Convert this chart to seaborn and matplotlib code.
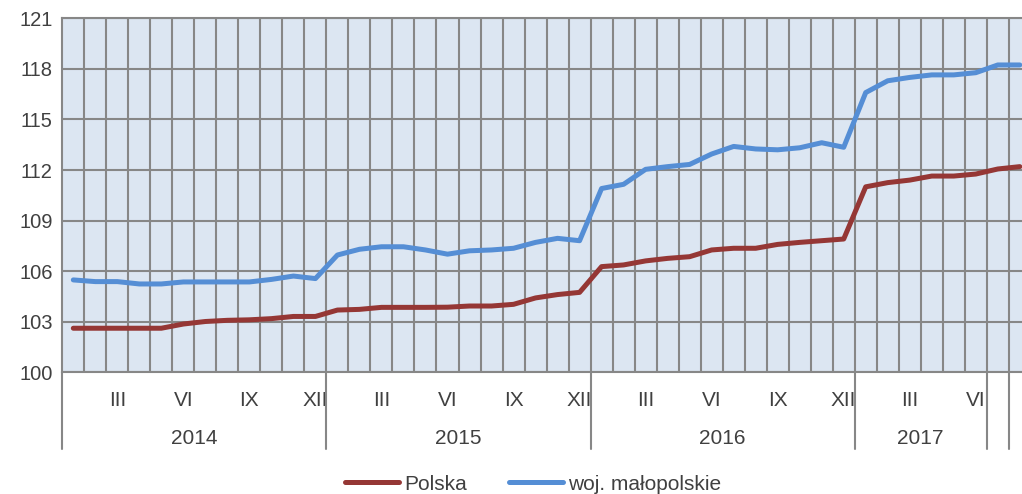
import pandas as pd
import matplotlib
matplotlib.use("Agg")
import matplotlib.pyplot as plt
import matplotlib.transforms as mtransforms
import seaborn as sns

# dane: miesiące I 2014 - VIII 2017
polska = [102.6, 102.6, 102.6, 102.6, 102.6, 102.85, 103.0, 103.07, 103.1, 103.17, 103.3, 103.3,
          103.68, 103.72, 103.84, 103.84, 103.84, 103.85, 103.92, 103.92, 104.02, 104.4, 104.6, 104.73,
          106.26, 106.36, 106.6, 106.75, 106.85, 107.25, 107.35, 107.35, 107.58, 107.7, 107.8, 107.9,
          111.0, 111.25, 111.4, 111.64, 111.64, 111.76, 112.06, 112.2]
malopolskie = [105.47, 105.37, 105.37, 105.23, 105.23, 105.35, 105.35, 105.35, 105.35, 105.5, 105.7, 105.55,
               106.95, 107.29, 107.44, 107.44, 107.25, 107.0, 107.2, 107.25, 107.35, 107.7, 107.94, 107.8,
               110.9, 111.15, 112.04, 112.2, 112.33, 112.95, 113.4, 113.25, 113.2, 113.32, 113.62, 113.35,
               116.6, 117.3, 117.5, 117.65, 117.65, 117.78, 118.24, 118.24]
years = ["2014", "2015", "2016", "2017"]
year_len = [12, 12, 12, 6]
month_labels = ["III", "VI", "IX", "XII"]
y_ticks = [100, 103, 106, 109, 112, 115, 118, 121]

n = len(polska)
df = pd.DataFrame({
    "idx": list(range(n)) * 2,
    "value": polska + malopolskie,
    "series": ["Polska"] * n + ["woj. małopolskie"] * n,
})

sns.set_style("white")
plt.rcParams["font.family"] = ["Liberation Sans", "DejaVu Sans"]
text_color = "#404040"
grid_color = "#878787"
fs = 15

fig = plt.figure(figsize=(10.22, 4.94), dpi=100)
ax = fig.add_axes([62.3 / 1022, (494 - 372) / 494, 1 - 62.3 / 1022, (372 - 18.5) / 494])
ax.set_facecolor("#DCE6F2")

palette = {"Polska": "#953735", "woj. małopolskie": "#558ED5"}
sns.lineplot(data=df, x="idx", y="value", hue="series", palette=palette,
             linewidth=3.6, ax=ax, legend=True, zorder=3)

ax.set_yticks(y_ticks)
ax.set_yticklabels([str(t) for t in y_ticks], fontsize=14.5, color=text_color)
ax.tick_params(axis="y", length=0, pad=7)

# siatka: pionowe linie między miesiącami
ax.set_xticks([i + 0.5 for i in range(n - 1)], minor=True)
ax.grid(True, which="minor", axis="x", color=grid_color, linewidth=1.5)
ax.grid(True, which="major", axis="y", color=grid_color, linewidth=1.5)

# etykiety miesięcy
pos, labs = [], []
start = 0
for yl in year_len:
    for k, m in zip([2, 5, 8, 11], month_labels):
        if k < yl:
            pos.append(start + k)
            labs.append(m)
    start += yl
ax.set_xticks(pos)
ax.set_xticklabels(labs, fontsize=fs, color=text_color)
ax.tick_params(axis="x", which="both", length=0, pad=14)
ax.set_xlabel("")
ax.set_ylabel("")

# granice osi dopiero po tickach (set_xticks poszerza zakres)
ax.set_xlim(-0.5, 43.1)
ax.set_ylim(100, 121)

for side in ["left", "top", "bottom"]:
    ax.spines[side].set_color(grid_color)
    ax.spines[side].set_linewidth(1.5)
ax.spines["right"].set_visible(False)

# separatory lat i etykiety lat
trans = mtransforms.blended_transform_factory(ax.transData, ax.transAxes)
bounds = [-0.5]
start = 0
for yr, yl in zip(years, year_len):
    ax.text(start + (yl - 1) / 2, -0.187, yr, transform=trans, ha="center", va="center",
            fontsize=fs, color=text_color)
    start += yl
    bounds.append(start - 0.5)
bounds.append(start + 0.5)
for b in bounds:
    ax.plot([b, b], [0, -0.218], transform=trans, color=grid_color, linewidth=1.5, clip_on=False)

# legenda
handles, labels = ax.get_legend_handles_labels()
ax.legend_.remove()
fig.legend(handles, labels, loc="center", bbox_to_anchor=(533 / 1022, 1 - 484 / 494), ncol=2,
           frameon=False, fontsize=fs, handlelength=2.6, handletextpad=0.25, columnspacing=2.0,
           labelcolor=text_color)

fig.savefig("out.png", dpi=100)
